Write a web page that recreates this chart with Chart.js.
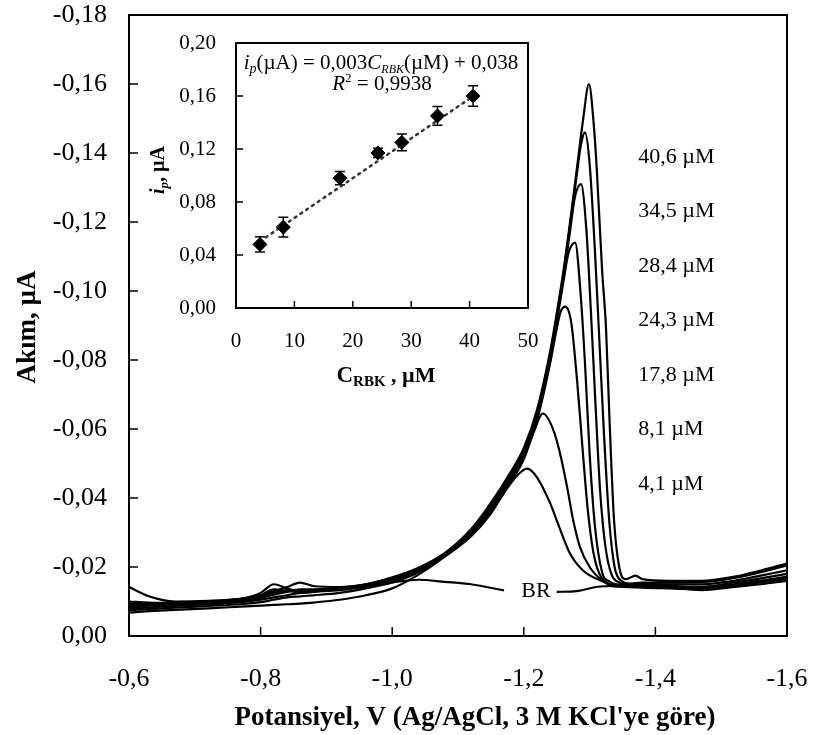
<!DOCTYPE html>
<html>
<head>
<meta charset="utf-8">
<script src="https://cdn.jsdelivr.net/npm/chart.js@4.4.1/dist/chart.umd.min.js"></script>
<style>
  body { margin: 0; background: #fff; }
  #wrap { position: relative; width: 813px; height: 735px; }
  #main { position: absolute; left: 0; top: 0; }
  #inset { position: absolute; left: 140px; top: 25px; }
</style>
</head>
<body>
<div id="wrap">
  <canvas id="main" width="813" height="735"></canvas>
  <canvas id="inset" width="420" height="380"></canvas>
</div>
<script>
var FONT = '"Liberation Serif", "Times New Roman", serif';
Chart.defaults.font.family = FONT;
Chart.defaults.color = '#000';

var X_TITLE = "Potansiyel, V (Ag/AgCl, 3 M KCl'ye göre)";
var Y_TITLE = 'Akım, µA';
var CONC_LABELS = ['40,6 µM', '34,5 µM', '28,4 µM', '24,3 µM', '17,8 µM', '8,1 µM', '4,1 µM'];

// potentials (V) shared by every voltammogram at the start and the end
var V_START = [-0.60, -0.63, -0.67, -0.72, -0.77, -0.80, -0.82, -0.84, -0.86, -0.88, -0.92, -0.96, -1.00, -1.04, -1.08];
var V_END = [-1.38, -1.42, -1.47, -1.52, -1.56, -1.60];

// blank (BR)
var V_BR = V_START.concat([-1.12, -1.17, -1.21, -1.25, -1.28, -1.31, -1.34], V_END);
var I_BR = [-0.0095, -0.0094, -0.0095, -0.0100, -0.0108, -0.0115, -0.0125, -0.0133, -0.0125, -0.0128, -0.0138, -0.0145, -0.0155, -0.0163, -0.0157,
  -0.0150, -0.0132, null, -0.0128, -0.0130, -0.0142, -0.0145,
  -0.0145, -0.0140, -0.0133, -0.0142, -0.0150, -0.0160];

// 4,1 uM
var V_41 = V_START.concat([-1.12, -1.15, -1.17, -1.19, -1.205, -1.22, -1.24, -1.255, -1.27, -1.29, -1.315, -1.34], V_END);
var I_41 = [-0.0068, -0.0072, -0.0076, -0.0080, -0.0085, -0.0088, -0.0090, -0.0092, -0.0094, -0.0097, -0.0105, -0.0118, -0.0138, -0.0178, -0.0230,
  -0.0289, -0.0355, -0.0415, -0.0465, -0.0485, -0.0460, -0.0385, -0.0310, -0.0240, -0.0190, -0.0162, -0.0145,
  -0.0140, -0.0138, -0.0136, -0.0146, -0.0155, -0.0165];

// 8,1 uM
var V_81 = V_START.concat([-1.12, -1.15, -1.18, -1.20, -1.215, -1.229, -1.245, -1.255, -1.266, -1.275, -1.285, -1.30, -1.32, -1.34], V_END);
var I_81 = [-0.0075, -0.0078, -0.0082, -0.0087, -0.0092, -0.0098, -0.0105, -0.0112, -0.0115, -0.0118, -0.0125, -0.0138, -0.0155, -0.0185, -0.0232,
  -0.0292, -0.0362, -0.0445, -0.0512, -0.0590, -0.0645, -0.0597, -0.0530, -0.0430, -0.0336, -0.0260, -0.0200, -0.0160, -0.0143,
  -0.0143, -0.0141, -0.0140, -0.0150, -0.0160, -0.0170];

// 17,8 uM
var V_178 = V_START.concat([-1.12, -1.15, -1.18, -1.20, -1.22, -1.24, -1.25, -1.256, -1.263, -1.272, -1.281, -1.289, -1.297, -1.306, -1.318, -1.345], V_END);
var I_178 = [-0.0080, -0.0083, -0.0087, -0.0092, -0.0098, -0.0105, -0.0112, -0.0118, -0.0125, -0.0128, -0.0133, -0.0143, -0.0160, -0.0190, -0.0234,
  -0.0295, -0.0368, -0.0450, -0.0518, -0.0625, -0.0790, -0.0890, -0.0940, -0.0955, -0.0910, -0.0740, -0.0550, -0.0370, -0.0240, -0.0170, -0.0145,
  -0.0146, -0.0145, -0.0143, -0.0155, -0.0167, -0.0180];

// 24,3 uM
var V_243 = V_START.concat([-1.12, -1.15, -1.18, -1.20, -1.22, -1.24, -1.25, -1.26, -1.268, -1.278, -1.286, -1.293, -1.30, -1.308, -1.319, -1.33, -1.35], V_END);
var I_243 = [-0.0085, -0.0088, -0.0090, -0.0095, -0.0102, -0.0110, -0.0120, -0.0128, -0.0135, -0.0135, -0.0138, -0.0148, -0.0163, -0.0192, -0.0236,
  -0.0298, -0.0372, -0.0456, -0.0525, -0.0632, -0.0800, -0.0910, -0.1025, -0.1110, -0.1140, -0.1000, -0.0790, -0.0530, -0.0320, -0.0185, -0.0158, -0.0148,
  -0.0150, -0.0150, -0.0150, -0.0160, -0.0175, -0.0190];

// 28,4 uM
var V_284 = V_START.concat([-1.12, -1.15, -1.18, -1.20, -1.22, -1.24, -1.25, -1.26, -1.27, -1.278, -1.287, -1.295, -1.302, -1.309, -1.316, -1.324, -1.333, -1.345, -1.355], V_END);
var I_284 = [-0.0090, -0.0092, -0.0095, -0.0098, -0.0105, -0.0118, -0.0130, -0.0142, -0.0155, -0.0145, -0.0142, -0.0150, -0.0170, -0.0198, -0.0240,
  -0.0302, -0.0376, -0.0462, -0.0532, -0.0640, -0.0808, -0.0918, -0.1035, -0.1170, -0.1275, -0.1310, -0.1180, -0.0940, -0.0670, -0.0420, -0.0260, -0.0180, -0.0155, -0.0150,
  -0.0152, -0.0146, -0.0138, -0.0148, -0.0160, -0.0172];

// 34,5 uM
var V_345 = V_START.concat([-1.12, -1.15, -1.18, -1.20, -1.22, -1.24, -1.25, -1.26, -1.27, -1.28, -1.287, -1.293, -1.30, -1.308, -1.315, -1.322, -1.33, -1.338, -1.348, -1.36], V_END);
var I_345 = [-0.0100, -0.0097, -0.0096, -0.0100, -0.0108, -0.0125, -0.0150, -0.0138, -0.0130, -0.0133, -0.0140, -0.0150, -0.0168, -0.0195, -0.0238,
  -0.0306, -0.0381, -0.0468, -0.0538, -0.0647, -0.0815, -0.0925, -0.1045, -0.1185, -0.1330, -0.1425, -0.1460, -0.1370, -0.1120, -0.0850, -0.0580, -0.0330, -0.0200, -0.0160, -0.0152,
  -0.0155, -0.0155, -0.0156, -0.0168, -0.0185, -0.0205];

// 40,6 uM
var V_406 = V_START.concat([-1.12, -1.15, -1.18, -1.20, -1.22, -1.24, -1.25, -1.26, -1.27, -1.28, -1.29, -1.299, -1.306, -1.311, -1.319, -1.325, -1.33, -1.337, -1.345, -1.355, -1.37], V_END);
var I_406 = [-0.0142, -0.0115, -0.0100, -0.0102, -0.0108, -0.0118, -0.0135, -0.0130, -0.0128, -0.0130, -0.0138, -0.0148, -0.0165, -0.0195, -0.0240,
  -0.0310, -0.0386, -0.0475, -0.0545, -0.0655, -0.0825, -0.0935, -0.1055, -0.1195, -0.1345, -0.1495, -0.1600, -0.1490, -0.1350, -0.1060, -0.0890, -0.0640, -0.0340, -0.0200, -0.0165, -0.0175,
  -0.0165, -0.0160, -0.0160, -0.0172, -0.0190, -0.0210];

// inset: peak current vs concentration
var INSET_CONC = [4.1, 8.1, 17.8, 24.3, 28.4, 34.5, 40.6];
var INSET_IP = [0.048, 0.061, 0.098, 0.117, 0.125, 0.145, 0.160];
var INSET_ERR = [0.0057, 0.0075, 0.0050, 0.0035, 0.0063, 0.0070, 0.0078];
var FIT_X = [4.1, 40.6];
var FIT_Y = [0.0503, 0.1598];

function commaFixed(v, d) {
  if (Math.abs(v) < 1e-9) v = 0;
  return v.toFixed(d).replace('.', ',');
}

function toPoints(xs, ys) {
  return xs.map(function (x, i) { return { x: x, y: ys[i] }; });
}

function curve(label, xs, ys) {
  return {
    label: label,
    data: toPoints(xs, ys),
    borderColor: '#000',
    borderWidth: 2.2,
    pointRadius: 0,
    fill: false,
    cubicInterpolationMode: 'monotone',
    spanGaps: false
  };
}

// fixes the room left round the plot area, whatever the label overhang
function fixPad(w, h, pad) {
  return function (s) {
    if (w) s.width = w;
    if (h) s.height = h;
    s.paddingTop = pad[0];
    s.paddingRight = pad[1];
    s.paddingBottom = pad[2];
    s.paddingLeft = pad[3];
  };
}

// draws the box round the plot area and short ticks pointing inwards
var frameAndTicks = {
  id: 'frameAndTicks',
  afterDatasetsDraw: function (chart, args, opts) {
    var ctx = chart.ctx, a = chart.chartArea;
    var xs = chart.scales.x, ys = chart.scales.y;
    ctx.save();
    ctx.strokeStyle = '#000';
    ctx.lineWidth = opts.lineWidth;
    ctx.strokeRect(a.left, a.top, a.right - a.left, a.bottom - a.top);
    ctx.lineWidth = 1.5;
    ctx.beginPath();
    xs.ticks.forEach(function (t) {
      var px = xs.getPixelForValue(t.value);
      ctx.moveTo(px, a.bottom);
      ctx.lineTo(px, a.bottom - opts.tick);
    });
    ys.ticks.forEach(function (t) {
      var py = ys.getPixelForValue(t.value);
      ctx.moveTo(a.left, py);
      ctx.lineTo(a.left + opts.tick, py);
    });
    ctx.stroke();
    ctx.restore();
  }
};

function drawRich(ctx, parts, cx, y) {
  var total = 0;
  parts.forEach(function (p) { ctx.font = p[1]; total += ctx.measureText(p[0]).width; });
  var x = cx - total / 2;
  parts.forEach(function (p) {
    ctx.font = p[1];
    ctx.fillText(p[0], x, y + (p[2] || 0));
    x += ctx.measureText(p[0]).width;
  });
}

var mainText = {
  id: 'mainText',
  afterDraw: function (chart) {
    var ctx = chart.ctx, xs = chart.scales.x, ys = chart.scales.y;
    ctx.save();
    ctx.fillStyle = '#000';
    ctx.textBaseline = 'middle';

    ctx.font = '22px ' + FONT;
    ctx.textAlign = 'left';
    CONC_LABELS.forEach(function (txt, i) {
      ctx.fillText(txt, xs.getPixelForValue(-1.374), ys.getPixelForValue(-0.1388 + i * 0.0158));
    });
    ctx.textAlign = 'center';
    ctx.fillText('BR', xs.getPixelForValue(-1.2185), ys.getPixelForValue(-0.0130));

    ctx.font = 'bold 27px ' + FONT;
    ctx.fillText(X_TITLE, 475, 718);
    ctx.translate(28, 327);
    ctx.rotate(-Math.PI / 2);
    ctx.fillText(Y_TITLE, 0, 0);
    ctx.restore();
  }
};

new Chart(document.getElementById('main').getContext('2d'), {
  type: 'line',
  data: {
    datasets: [
      curve('40,6 µM', V_406, I_406),
      curve('34,5 µM', V_345, I_345),
      curve('28,4 µM', V_284, I_284),
      curve('24,3 µM', V_243, I_243),
      curve('17,8 µM', V_178, I_178),
      curve('8,1 µM', V_81, I_81),
      curve('4,1 µM', V_41, I_41),
      curve('BR', V_BR, I_BR)
    ]
  },
  options: {
    responsive: false,
    animation: false,
    layout: { padding: 0 },
    plugins: {
      legend: { display: false },
      tooltip: { enabled: false },
      frameAndTicks: { lineWidth: 2, tick: 9 }
    },
    scales: {
      x: {
        type: 'linear',
        min: -1.6,
        max: -0.6,
        reverse: true,
        grid: { display: false, drawTicks: false },
        border: { display: false },
        ticks: {
          stepSize: 0.2,
          autoSkip: false,
          maxRotation: 0,
          padding: 28,
          font: { size: 26 },
          callback: function (v) { return commaFixed(v, 1); }
        },
        afterFit: fixPad(0, 99, [0, 26, 0, 0])
      },
      y: {
        type: 'linear',
        min: -0.18,
        max: 0,
        reverse: true,
        grid: { display: false, drawTicks: false },
        border: { display: false },
        ticks: {
          stepSize: 0.02,
          autoSkip: false,
          padding: 22,
          font: { size: 26 },
          callback: function (v) { return commaFixed(v, 2); }
        },
        afterFit: fixPad(129, 0, [15, 0, 0, 0])
      }
    }
  },
  plugins: [frameAndTicks, mainText]
});

// ---------- inset ----------
var errorBars = {
  id: 'errorBars',
  beforeDatasetsDraw: function (chart) {
    var ctx = chart.ctx, xs = chart.scales.x, ys = chart.scales.y;
    ctx.save();
    ctx.strokeStyle = '#000';
    ctx.lineWidth = 1.5;
    ctx.beginPath();
    INSET_CONC.forEach(function (c, i) {
      var px = xs.getPixelForValue(c);
      var top = ys.getPixelForValue(INSET_IP[i] + INSET_ERR[i]);
      var bot = ys.getPixelForValue(INSET_IP[i] - INSET_ERR[i]);
      ctx.moveTo(px, top); ctx.lineTo(px, bot);
      ctx.moveTo(px - 5, top); ctx.lineTo(px + 5, top);
      ctx.moveTo(px - 5, bot); ctx.lineTo(px + 5, bot);
    });
    ctx.stroke();
    ctx.restore();
  }
};

var insetText = {
  id: 'insetText',
  afterDraw: function (chart) {
    var ctx = chart.ctx;
    ctx.save();
    ctx.fillStyle = '#000';
    ctx.textAlign = 'left';
    ctx.textBaseline = 'alphabetic';
    drawRich(ctx, [
      ['i', 'italic 21px ' + FONT],
      ['p', 'italic 14px ' + FONT, 4],
      ['(µA) = 0,003', '21px ' + FONT],
      ['C', 'italic 21px ' + FONT],
      ['RBK', 'italic 12px ' + FONT, 4],
      ['(µM) + 0,038', '21px ' + FONT]
    ], 241, 44);
    drawRich(ctx, [
      ['R', 'italic 21px ' + FONT],
      ['2', '13px ' + FONT, -8],
      [' = 0,9938', '21px ' + FONT]
    ], 242, 65);
    drawRich(ctx, [
      ['C', 'bold 23px ' + FONT],
      ['RBK', 'bold 15px ' + FONT, 4],
      [' , µM', 'bold 22px ' + FONT]
    ], 246, 357);
    ctx.translate(24, 145);
    ctx.rotate(-Math.PI / 2);
    drawRich(ctx, [
      ['i', 'bold italic 20px ' + FONT],
      ['p', 'bold italic 13px ' + FONT, 4],
      [', µA', 'bold 20px ' + FONT]
    ], 0, 0);
    ctx.restore();
  }
};

new Chart(document.getElementById('inset').getContext('2d'), {
  type: 'scatter',
  data: {
    datasets: [
      {
        label: 'ip',
        data: toPoints(INSET_CONC, INSET_IP),
        pointStyle: 'rectRot',
        pointRadius: 7,
        backgroundColor: '#000',
        borderColor: '#000',
        borderWidth: 1
      },
      {
        label: 'fit',
        type: 'line',
        data: toPoints(FIT_X, FIT_Y),
        borderColor: '#333',
        borderWidth: 2.5,
        borderDash: [2, 5],
        borderCapStyle: 'round',
        pointRadius: 0,
        fill: false
      }
    ]
  },
  options: {
    responsive: false,
    animation: false,
    layout: { padding: 0 },
    plugins: {
      legend: { display: false },
      tooltip: { enabled: false },
      frameAndTicks: { lineWidth: 2, tick: 7 }
    },
    scales: {
      x: {
        type: 'linear',
        min: 0,
        max: 50,
        grid: { display: false, drawTicks: false },
        border: { display: false },
        ticks: {
          stepSize: 10,
          autoSkip: false,
          maxRotation: 0,
          padding: 21,
          font: { size: 21 },
          callback: function (v) { return String(v); }
        },
        afterFit: fixPad(0, 97, [0, 32, 0, 0])
      },
      y: {
        type: 'linear',
        min: 0,
        max: 0.2,
        grid: { display: false, drawTicks: false },
        border: { display: false },
        ticks: {
          stepSize: 0.04,
          autoSkip: false,
          padding: 20,
          font: { size: 21 },
          callback: function (v) { return commaFixed(v, 2); }
        },
        afterFit: fixPad(96, 0, [18, 0, 0, 0])
      }
    }
  },
  plugins: [frameAndTicks, errorBars, insetText]
});
</script>
</body>
</html>
